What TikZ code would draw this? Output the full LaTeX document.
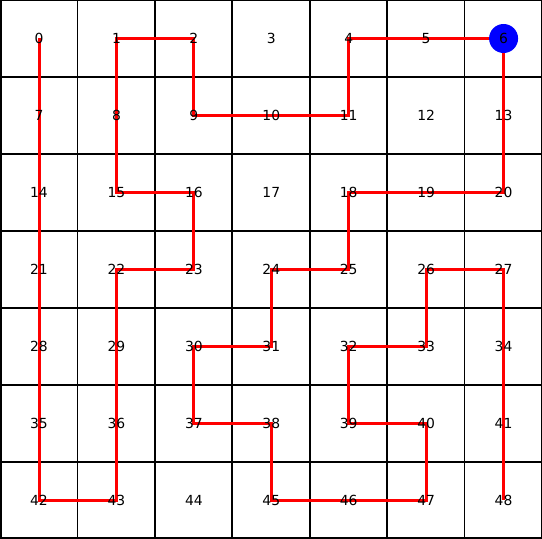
\documentclass[tikz,border=0pt]{standalone}
\usepackage{fontspec}
\setmainfont{DejaVu Sans}
\pgfdeclarelayer{gridlayer}
\pgfdeclarelayer{routelayer}
\pgfdeclarelayer{dotlayer}
\pgfsetlayers{gridlayer,routelayer,dotlayer,main}
\begin{document}
\begin{tikzpicture}[x=1pt,y=1pt,
  lbl/.style={font=\fontsize{13.9}{16}\selectfont, inner sep=0pt, text=black},
  gridline/.style={black, line width=1.8pt},
  route/.style={red, line width=3pt, line join=miter},
  startdot/.style={fill=blue}]
\useasboundingbox (0,0) rectangle (542,539);
\begin{pgfonlayer}{gridlayer}
\begin{scope}
  \clip (0,0) rectangle (542,539);
  \foreach \k in {1,...,6} {
    \draw[gridline] ({77.43*\k},0) -- ({77.43*\k},539);
    \draw[gridline] (0,{77*\k}) -- (542,{77*\k});
  }
  \draw[black, line width=3pt] (0,0) rectangle (542,539);
\end{scope}
\end{pgfonlayer}
\foreach \i in {0,...,48} {
  \pgfmathtruncatemacro{\col}{mod(\i,7)}
  \pgfmathtruncatemacro{\row}{int(\i/7)}
  \node[lbl] (n\i) at ({39+77.43*\col},{539-38.5-77*\row}) {\i};
}
\begin{pgfonlayer}{dotlayer}
  \fill[startdot] (n6.center) circle (14.5);
\end{pgfonlayer}
\begin{pgfonlayer}{routelayer}
\draw[route] (n0.center) -- (n7.center) -- (n14.center) -- (n21.center) -- (n28.center) -- (n35.center) -- (n42.center) -- (n43.center) -- (n36.center) -- (n29.center) -- (n22.center) -- (n23.center) -- (n16.center) -- (n15.center) -- (n8.center) -- (n1.center) -- (n2.center) -- (n9.center) -- (n10.center) -- (n11.center) -- (n4.center) -- (n5.center) -- (n6.center) -- (n13.center) -- (n20.center) -- (n19.center) -- (n18.center) -- (n25.center) -- (n24.center) -- (n31.center) -- (n30.center) -- (n37.center) -- (n38.center) -- (n45.center) -- (n46.center) -- (n47.center) -- (n40.center) -- (n39.center) -- (n32.center) -- (n33.center) -- (n26.center) -- (n27.center) -- (n34.center) -- (n41.center) -- (n48.center);
\end{pgfonlayer}
\end{tikzpicture}
\end{document}
